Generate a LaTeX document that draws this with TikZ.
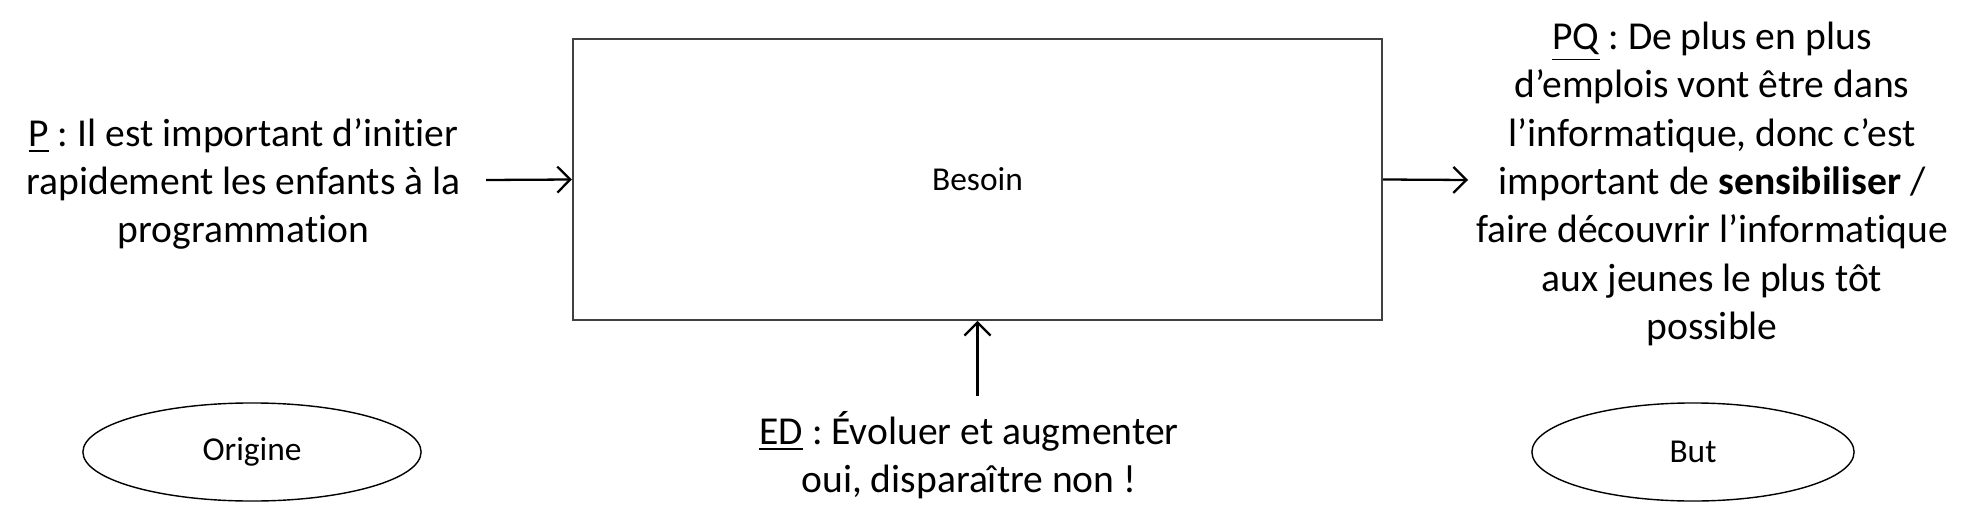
\documentclass[tikz,border=0pt]{standalone}
\usepackage{fontspec}
\setmainfont{Carlito}[Ligatures=NoCommon]
\usetikzlibrary{shapes.geometric,arrows.meta}
\frenchspacing
\tikzset{
  txt/.style={align=center,font=\fontsize{11.25}{13.75}\selectfont},
  small/.style={font=\fontsize{9.5}{11}\selectfont},
  fleche/.style={-{Straight Barb[length=1.3mm,width=2.6mm]},line width=0.65pt,black}
}
\begin{document}
\begin{tikzpicture}[x=0.01cm,y=-0.01cm]
\useasboundingbox (0,0) rectangle (1984,521);
\node[draw=black!75,line width=0.5pt,minimum width=8.09cm,minimum height=2.81cm,small] (besoin) at (977.5,179.5) {Besoin};
\node[txt] (p) at (243.5,184) {\underline{P} : Il est important d’initier\\rapidement les enfants à la\\programmation};
\node[txt] (pq) at (1712,184) {\underline{PQ} : De plus en plus\\d’emplois vont être dans\\l’informatique, donc c’est\\important de \textbf{sensibiliser} /\\faire découvrir l’informatique\\aux jeunes le plus tôt\\possible};
\node[txt] (ed) at (969,455) {\underline{ED} : Évoluer et augmenter\\oui, disparaître non !};
\node[draw,ellipse,minimum width=3.38cm,minimum height=0.98cm,line width=0.4pt,small] (origine) at (252,452) {Origine};
\node[draw,ellipse,minimum width=3.22cm,minimum height=0.98cm,line width=0.4pt,small] (but) at (1693,452) {But};
\coordinate (pfin) at (486,180);
\coordinate (pqfin) at (1468,180);
\coordinate (edfin) at (977.5,396);
\path[draw,fleche] (pfin) -- (besoin.west);
\path[draw,fleche] (besoin.east) -- (pqfin);
\path[draw,fleche] (edfin) -- (besoin.south);
\end{tikzpicture}
\end{document}
